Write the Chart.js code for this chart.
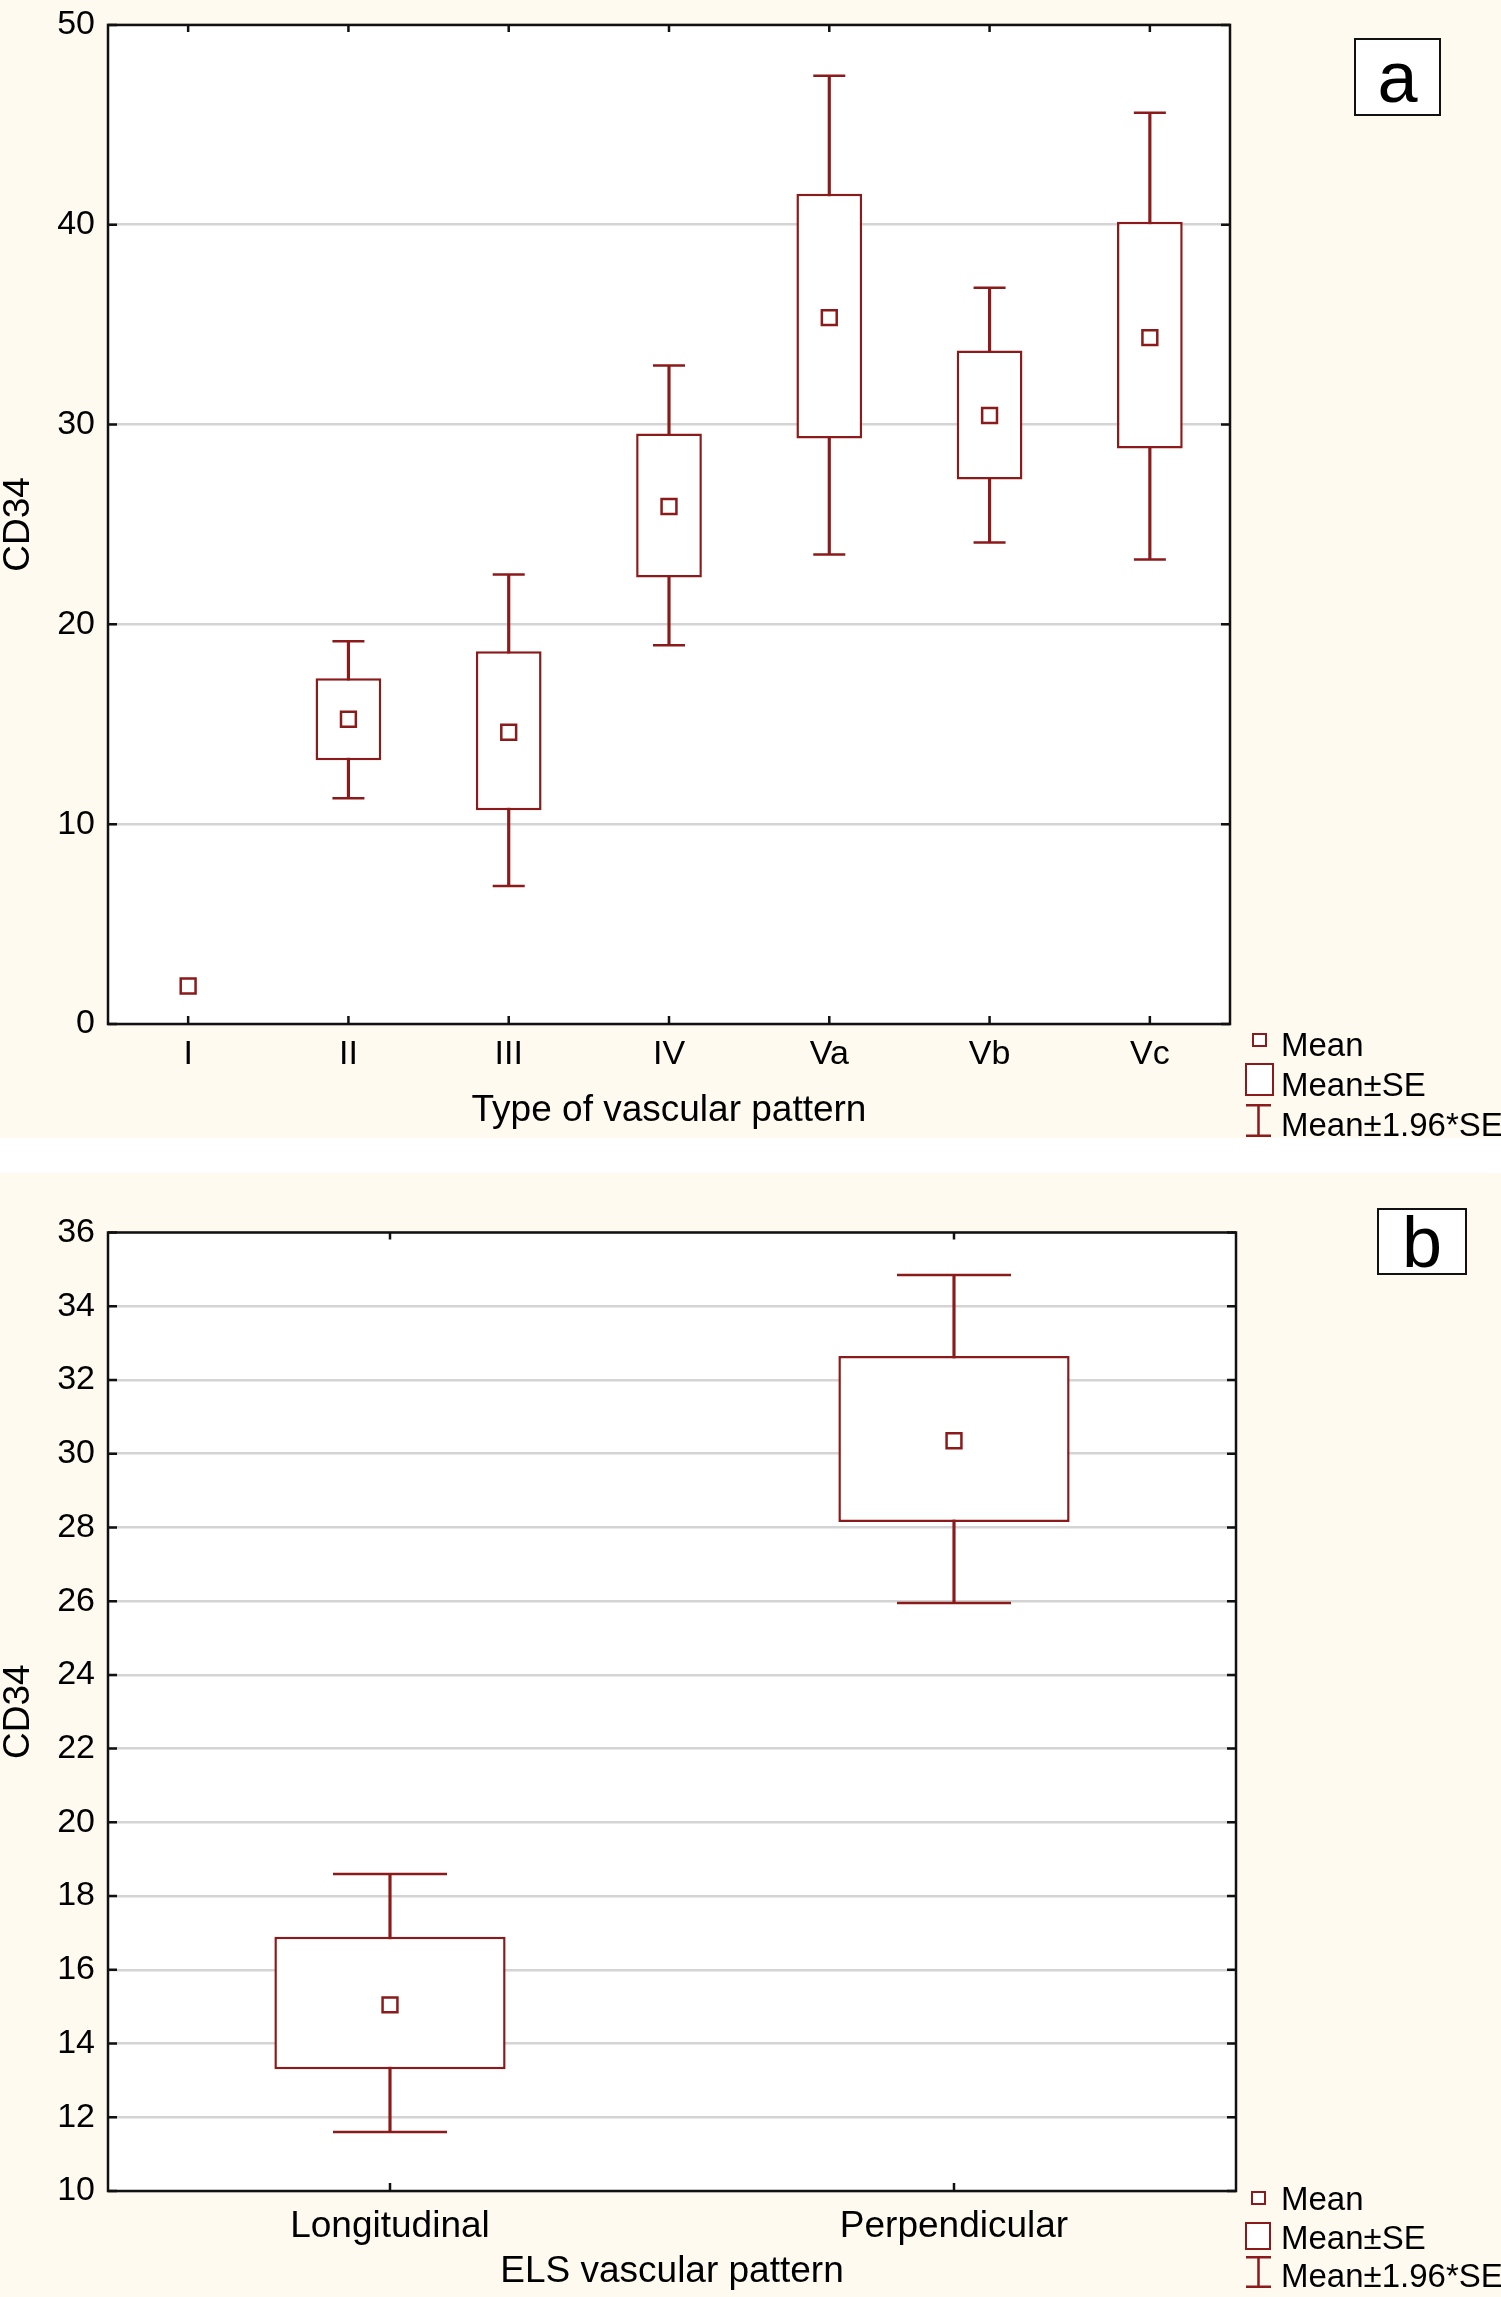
<!DOCTYPE html>
<html>
<head>
<meta charset="utf-8">
<script src="https://cdn.jsdelivr.net/npm/chart.js@4.4.1/dist/chart.umd.min.js"></script>
<style>
  html, body { margin: 0; padding: 0; background: #fff; }
  body { width: 1501px; height: 2297px; position: relative; overflow: hidden;
         font-family: "Liberation Sans", Arial, Helvetica, sans-serif; color: #000; }
  .panel { position: absolute; left: 0; width: 1501px; background: #fffaf0; }
  .panel canvas { position: absolute; left: 0; top: 0; }
  .tag { position: absolute; box-sizing: border-box; border: 2.5px solid #111; background: #fff;
         display: flex; align-items: center; justify-content: center; font-size: 72px; line-height: 1; }
  .lg-text { position: absolute; font-size: 33px; line-height: 33px; white-space: nowrap; }
  .lg-box { position: absolute; box-sizing: border-box; border: 2.5px solid #8b1a1a; background: #fff; }
  .lg-bar { position: absolute; }
</style>
</head>
<body>
<div class="panel" id="panelA" style="top:0;height:1138px;">
  <canvas id="chartA" width="1501" height="1138"></canvas>
</div>
<div class="panel" id="panelB" style="top:1173px;height:1124px;">
  <canvas id="chartB" width="1501" height="1124"></canvas>
</div>

<div class="tag" style="left:1354px;top:38px;width:87px;height:78px;">a</div>
<div class="tag" style="left:1377px;top:1208px;width:90px;height:67px;">b</div>

<div id="legendA"></div>
<div id="legendB"></div>

<script>
// panel a: CD34 by type of vascular pattern
var CATEGORIES_A = ["I", "II", "III", "IV", "Va", "Vb", "Vc"];
var MEAN_A     = [1.9, 15.25, 14.6, 25.9, 35.35, 30.45, 34.35];
var SE_LOW_A   = [null, 13.2, 10.7, 22.35, 29.3, 27.25, 28.8];
var SE_HIGH_A  = [null, 17.3, 18.65, 29.55, 41.55, 33.7, 40.15];
var CI_LOW_A   = [null, 11.3, 6.9, 18.95, 23.5, 24.1, 23.25];
var CI_HIGH_A  = [null, 19.15, 22.5, 32.95, 47.45, 36.85, 45.6];

// panel b: CD34 by ELS vascular pattern
var CATEGORIES_B = ["Longitudinal", "Perpendicular"];
var MEAN_B     = [15.05, 30.35];
var SE_LOW_B   = [13.3, 28.15];
var SE_HIGH_B  = [16.9, 32.65];
var CI_LOW_B   = [11.6, 25.95];
var CI_HIGH_B  = [18.6, 34.85];

var FONT = '"Liberation Sans", Arial, Helvetica, sans-serif';
var RED = "#8b1a1a";
var TICK = 9;

// floating bars need [lo, hi]; a missing group stays null so nothing is drawn
function pairs(lo, hi) {
  return lo.map(function (v, i) { return v == null ? null : [v, hi[i]]; });
}

// white plot area + black frame with inward tick marks (Statistica style)
var framePlugin = {
  id: "frame",
  beforeDraw: function (chart) {
    var a = chart.chartArea, ctx = chart.ctx;
    ctx.save();
    ctx.fillStyle = "#fff";
    ctx.fillRect(a.left, a.top, a.right - a.left, a.bottom - a.top);
    ctx.restore();
  },
  afterDraw: function (chart) {
    var a = chart.chartArea, ctx = chart.ctx;
    var xs = chart.scales.x, ys = chart.scales.y;
    ctx.save();
    ctx.strokeStyle = "#111";
    ctx.lineWidth = 2.5;
    ctx.strokeRect(a.left, a.top, a.right - a.left, a.bottom - a.top);
    ctx.beginPath();
    ys.ticks.forEach(function (t, i) {
      var py = ys.getPixelForTick(i);
      ctx.moveTo(a.left, py); ctx.lineTo(a.left + TICK, py);
      ctx.moveTo(a.right, py); ctx.lineTo(a.right - TICK, py);
    });
    xs.ticks.forEach(function (t, i) {
      var px = xs.getPixelForTick(i);
      ctx.moveTo(px, a.top); ctx.lineTo(px, a.top + TICK - 2);
      ctx.moveTo(px, a.bottom); ctx.lineTo(px, a.bottom - TICK + 1);
    });
    ctx.stroke();
    ctx.restore();
  },
};

function buildChart(canvas, cfg) {
  return new Chart(canvas, {
    type: "bar",
    data: {
      labels: cfg.labels,
      datasets: [
        {
          type: "line", label: "Mean", data: cfg.mean, showLine: false,
          pointStyle: "rect", pointRadius: 10.5, pointHoverRadius: 10.5,
          pointBackgroundColor: "#fff", pointBorderColor: RED, pointBorderWidth: 2.5,
          order: 0,
        },
        {
          type: "bar", label: "Mean±SE", data: pairs(cfg.seLow, cfg.seHigh), grouped: false,
          backgroundColor: "#fff", borderColor: RED, borderWidth: 2.5, borderSkipped: false,
          barPercentage: 0.41, categoryPercentage: 1, order: 1,
        },
        {
          type: "line", label: "upper", data: cfg.ciHigh, showLine: false,
          pointStyle: "line", pointRadius: cfg.capRadius, pointHoverRadius: cfg.capRadius,
          pointBorderColor: RED, pointBorderWidth: 2.5, order: 2,
        },
        {
          type: "line", label: "lower", data: cfg.ciLow, showLine: false,
          pointStyle: "line", pointRadius: cfg.capRadius, pointHoverRadius: cfg.capRadius,
          pointBorderColor: RED, pointBorderWidth: 2.5, order: 2,
        },
        {
          type: "bar", label: "Mean±1.96*SE", data: pairs(cfg.ciLow, cfg.ciHigh), grouped: false,
          backgroundColor: RED, borderWidth: 0, barThickness: 2.5, order: 3,
        },
      ],
    },
    options: {
      responsive: false,
      animation: false,
      events: [],
      layout: { padding: { top: cfg.padTop, right: cfg.padRight, left: 0, bottom: 0 } },
      plugins: { legend: { display: false }, tooltip: { enabled: false } },
      scales: {
        x: {
          grid: { display: false, drawTicks: false },
          border: { display: false },
          ticks: {
            color: "#000", autoSkip: false, maxRotation: 0,
            font: { family: FONT, size: cfg.xTickSize }, padding: cfg.xTickPad,
          },
          title: {
            display: true, text: cfg.xTitle, color: "#000",
            font: { family: FONT, size: 37, lineHeight: 1 },
            padding: { top: 0, bottom: cfg.xTitlePad },
          },
          afterFit: function (s) { s.height = cfg.xHeight; },
        },
        y: {
          min: cfg.yMin, max: cfg.yMax,
          grid: { color: "#d4d4d4", lineWidth: 2.5, drawTicks: false },
          border: { display: false },
          ticks: {
            stepSize: cfg.yStep, color: "#000", padding: 13,
            font: { family: FONT, size: 34, lineHeight: 0.7 },
          },
          title: {
            display: true, text: "CD34", color: "#000",
            font: { family: FONT, size: 37, lineHeight: 1 }, padding: 0,
          },
          afterFit: function (s) { s.width = 108; },
        },
      },
    },
    plugins: [framePlugin],
  });
}

// legend as HTML next to the x labels (three rows: mean, box, whisker)
function renderLegend(container, pos) {
  var html = "";
  html += '<div class="lg-box" style="left:' + pos.meanX + 'px;top:' + pos.meanY + 'px;width:15px;height:14px;"></div>';
  html += '<div class="lg-box" style="left:1245px;top:' + pos.boxY + 'px;width:' + pos.boxW + 'px;height:' + pos.boxH + 'px;"></div>';
  html += '<svg class="lg-bar" style="left:1245px;top:' + pos.barY + 'px;" width="27" height="' + pos.barH + '">' +
    '<path d="M1 1.25H26M13.5 1.25V' + (pos.barH - 1.25) + 'M1 ' + (pos.barH - 1.25) + 'H26" stroke="' + RED + '" stroke-width="2.5" fill="none"/></svg>';
  ["Mean", "Mean±SE", "Mean±1.96*SE"].forEach(function (t, i) {
    html += '<div class="lg-text" style="left:1281px;top:' + (pos.baselines[i] - 28) + 'px;">' + t + "</div>";
  });
  container.innerHTML = html;
}

buildChart(document.getElementById("chartA"), {
  labels: CATEGORIES_A, mean: MEAN_A, seLow: SE_LOW_A, seHigh: SE_HIGH_A,
  ciLow: CI_LOW_A, ciHigh: CI_HIGH_A,
  capRadius: 16, yMin: 0, yMax: 50, yStep: 10,
  xTitle: "Type of vascular pattern", xTickSize: 34, xTickPad: 10, xTitlePad: 8.5,
  padTop: 18, padRight: 271, xHeight: 114,
});

buildChart(document.getElementById("chartB"), {
  labels: CATEGORIES_B, mean: MEAN_B, seLow: SE_LOW_B, seHigh: SE_HIGH_B,
  ciLow: CI_LOW_B, ciHigh: CI_HIGH_B,
  capRadius: 57, yMin: 10, yMax: 36, yStep: 2,
  xTitle: "ELS vascular pattern", xTickSize: 37, xTickPad: 14, xTitlePad: 6.5,
  padTop: 13, padRight: 265, xHeight: 106,
});

renderLegend(document.getElementById("legendA"), {
  meanX: 1252, meanY: 1033, boxY: 1063, boxW: 29, boxH: 33, barY: 1104, barH: 33,
  baselines: [1056, 1096, 1136],
});
renderLegend(document.getElementById("legendB"), {
  meanX: 1251, meanY: 2191, boxY: 2222, boxW: 26, boxH: 28, barY: 2256, barH: 32,
  baselines: [2210, 2249, 2287],
});
</script>
</body>
</html>
